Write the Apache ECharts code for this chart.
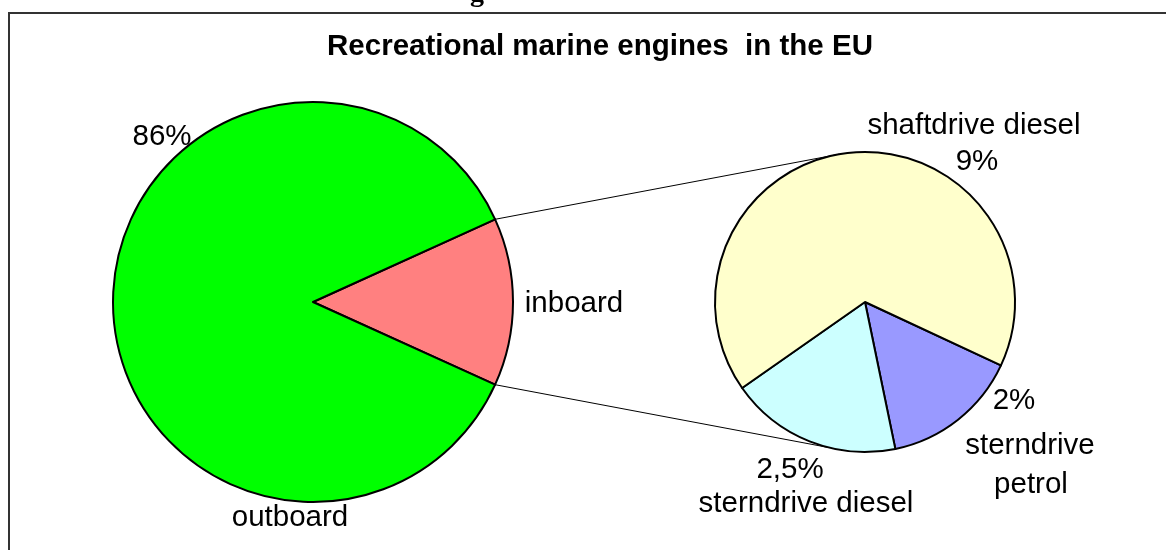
<!DOCTYPE html>
<html>
<head>
<meta charset="utf-8">
<script src="https://cdn.jsdelivr.net/npm/echarts@6/dist/echarts.min.js"></script>
<style>
  html, body { margin: 0; padding: 0; background: #fff; }
  #chart { width: 1166px; height: 550px; }
</style>
</head>
<body>
<div id="chart"></div>
<script>
// main pie: outboard vs inboard, inboard is split in the second pie
const mainNames = ['inboard', 'outboard']
const mainColors = ['#FF8080', '#00FF00']
const outboardValue = 86

const subNames = ['sterndrive petrol', 'sterndrive diesel', 'shaftdrive diesel']
const subValues = [2, 2.5, 9]
const subLabels = ['2%', '2,5%', '9%']
const subColors = ['#9999FF', '#CCFFFF', '#FFFFCC']

const FONT = 'Liberation Sans, Arial, sans-serif'
const FS = 29.5

const inboardValue = subValues.reduce((a, b) => a + b, 0)
const total = inboardValue + outboardValue

// geometry of the two pies (px)
const leftC = [313, 302]
const leftR = 200
const rightC = [865, 302]
const rightR = 150

const halfAngle = inboardValue / total * 180
const subStart = -25

const chart = echarts.init(document.getElementById('chart'))

function pt(c, r, deg) {
  const a = deg * Math.PI / 180
  return [c[0] + r * Math.cos(a), c[1] - r * Math.sin(a)]
}

const p1 = pt(leftC, leftR, halfAngle)
const p2 = pt(leftC, leftR, -halfAngle)
const q1 = pt(rightC, rightR, 100)
const q2 = pt(rightC, rightR, -104)

function label(text, x, y) {
  return {
    type: 'text',
    x,
    y,
    z: 10,
    style: {
      text,
      font: FS + 'px ' + FONT,
      fill: '#000',
      align: 'center',
      verticalAlign: 'middle',
    },
  }
}

const option = {
  backgroundColor: '#fff',
  animation: false,
  title: {
    text: 'Recreational marine engines  in the EU',
    left: 595,
    top: 27,
    textAlign: 'center',
    textStyle: {
      fontFamily: FONT,
      fontSize: FS,
      fontWeight: 'bold',
      color: '#000',
    },
  },
  graphic: [
    {
      type: 'rect',
      shape: { x: 9, y: 13, width: 1200, height: 600 },
      style: { fill: null, stroke: '#333', lineWidth: 2 },
      silent: true,
    },
    {
      type: 'text',
      x: 477,
      y: -6,
      style: {
        text: 'g',
        font: 'bold 28px Liberation Serif, serif',
        fill: '#000',
        align: 'center',
        verticalAlign: 'middle',
      },
    },
    {
      type: 'line',
      shape: { x1: p1[0], y1: p1[1], x2: q1[0], y2: q1[1] },
      style: { stroke: '#000', lineWidth: 1 },
    },
    {
      type: 'line',
      shape: { x1: p2[0], y1: p2[1], x2: q2[0], y2: q2[1] },
      style: { stroke: '#000', lineWidth: 1 },
    },
    label(outboardValue + '%', 162, 137),
    label(mainNames[1], 290, 518),
    label(mainNames[0], 574, 304),
    label(subNames[2], 974, 126),
    label(subLabels[2], 977, 162),
    label(subLabels[0], 1014, 401),
    label('sterndrive', 1030, 446),
    label('petrol', 1031, 485),
    label(subLabels[1], 790, 470),
    label(subNames[1], 806, 504),
  ],
  series: [
    {
      type: 'pie',
      center: leftC,
      radius: leftR,
      startAngle: halfAngle,
      clockwise: true,
      silent: true,
      label: { show: false },
      labelLine: { show: false },
      itemStyle: { borderColor: '#000', borderWidth: 2 },
      data: [
        { name: mainNames[0], value: inboardValue, itemStyle: { color: mainColors[0] } },
        { name: mainNames[1], value: outboardValue, itemStyle: { color: mainColors[1] } },
      ],
    },
    {
      type: 'pie',
      center: rightC,
      radius: rightR,
      startAngle: subStart,
      clockwise: true,
      silent: true,
      label: { show: false },
      labelLine: { show: false },
      itemStyle: { borderColor: '#000', borderWidth: 2 },
      data: subNames.map((n, i) => ({ name: n, value: subValues[i], itemStyle: { color: subColors[i] } })),
    },
  ],
}

chart.setOption(option)
</script>
</body>
</html>
